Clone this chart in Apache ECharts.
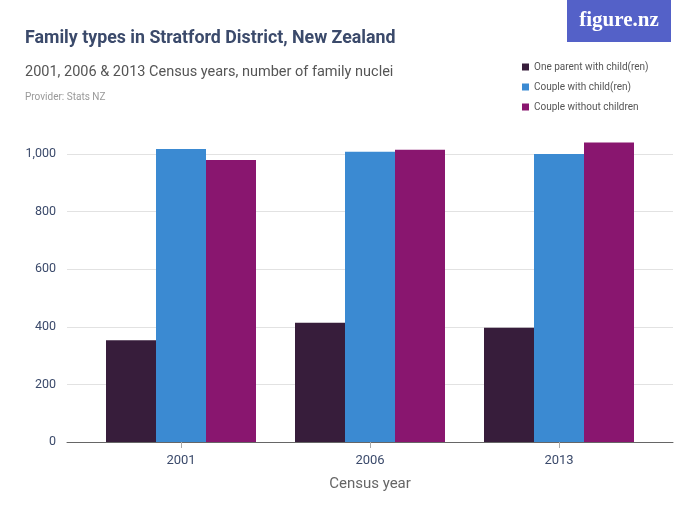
<!DOCTYPE html>
<html>
<head>
<meta charset="utf-8">
<script src="https://cdn.jsdelivr.net/npm/echarts@6/dist/echarts.min.js"></script>
<style>
  html, body { margin: 0; padding: 0; background: #fff; }
  #chart { width: 700px; height: 525px; }
</style>
</head>
<body>
<div id="chart"></div>
<script>
var years = ['2001', '2006', '2013']
var seriesNames = ['One parent with child(ren)', 'Couple with child(ren)', 'Couple without children']
var oneParent = [353, 414, 397]
var coupleWith = [1017, 1008, 1000]
var coupleWithout = [979, 1015, 1040]
var yTicks = [0, 200, 400, 600, 800, 1000]

var font = 'Roboto, sans-serif'
var colors = ['#371d3b', '#3b8ad2', '#89166f']

var chart = echarts.init(document.getElementById('chart'))

chart.setOption({
  animation: false,
  color: colors,
  textStyle: { fontFamily: font },
  title: [
    {
      text: 'Family types in Stratford District, New Zealand',
      left: 20, top: 25,
      textStyle: { fontFamily: font, fontSize: 17.8, fontWeight: 'bold', color: '#3b4a6b' }
    },
    {
      text: '2001, 2006 & 2013 Census years, number of family nuclei',
      left: 20, top: 60,
      textStyle: { fontFamily: font, fontSize: 14.5, fontWeight: 'normal', color: '#555' }
    },
    {
      text: 'Provider: Stats NZ',
      left: 20, top: 87,
      textStyle: { fontFamily: font, fontSize: 10, fontWeight: 'normal', color: '#999' }
    }
  ],
  graphic: [
    {
      type: 'rect',
      shape: { x: 567, y: 0, width: 104, height: 42 },
      style: { fill: '#5461c8' }
    },
    {
      type: 'text',
      x: 619, y: 21,
      style: {
        text: 'figure.nz',
        fill: '#fff',
        font: 'bold 21px "Liberation Serif", serif',
        textAlign: 'center',
        textVerticalAlign: 'middle'
      }
    }
  ],
  legend: {
    orient: 'vertical',
    left: 517, top: 57,
    icon: 'rect',
    itemWidth: 7, itemHeight: 7,
    itemGap: 10,
    data: seriesNames,
    textStyle: { fontFamily: font, fontSize: 10, color: '#555' }
  },
  grid: [
    { left: 67, right: 27, top: 154, bottom: 83 },
    { left: 86.5, right: 46.5, top: 125.2, bottom: 83 }
  ],
  xAxis: [
    {
      gridIndex: 0,
      type: 'category',
      data: years,
      axisLine: { lineStyle: { color: '#666', width: 1 } },
      axisTick: { show: false },
      axisLabel: { show: false }
    },
    {
      gridIndex: 1,
      type: 'category',
      data: years,
      axisLine: { show: false },
      axisTick: { show: true, alignWithLabel: true, length: 6, lineStyle: { color: '#aaa' } },
      axisLabel: { margin: 12, fontFamily: font, fontSize: 13, color: '#3b4a6b' },
      name: 'Census year',
      nameLocation: 'middle',
      nameGap: 35,
      nameTextStyle: { fontFamily: font, fontSize: 15, color: '#666' }
    }
  ],
  yAxis: [
    {
      gridIndex: 0,
      type: 'value',
      min: yTicks[0],
      max: yTicks[yTicks.length - 1],
      interval: 200,
      axisLine: { show: false },
      axisTick: { show: false },
      axisLabel: {
        margin: 11,
        fontFamily: font, fontSize: 12.5, color: '#3b4a6b',
        formatter: function (v) { return v.toLocaleString('en-US') }
      },
      splitLine: { lineStyle: { color: '#e2e2e2', width: 1 } }
    },
    {
      gridIndex: 1,
      type: 'value',
      min: 0,
      max: 1100,
      show: false,
      splitLine: { show: false }
    }
  ],
  series: [
    { name: seriesNames[0], type: 'bar', xAxisIndex: 1, yAxisIndex: 1, barWidth: 50, barGap: '0%', data: oneParent },
    { name: seriesNames[1], type: 'bar', xAxisIndex: 1, yAxisIndex: 1, barWidth: 50, barGap: '0%', data: coupleWith },
    { name: seriesNames[2], type: 'bar', xAxisIndex: 1, yAxisIndex: 1, barWidth: 50, barGap: '0%', data: coupleWithout }
  ]
})
</script>
</body>
</html>
